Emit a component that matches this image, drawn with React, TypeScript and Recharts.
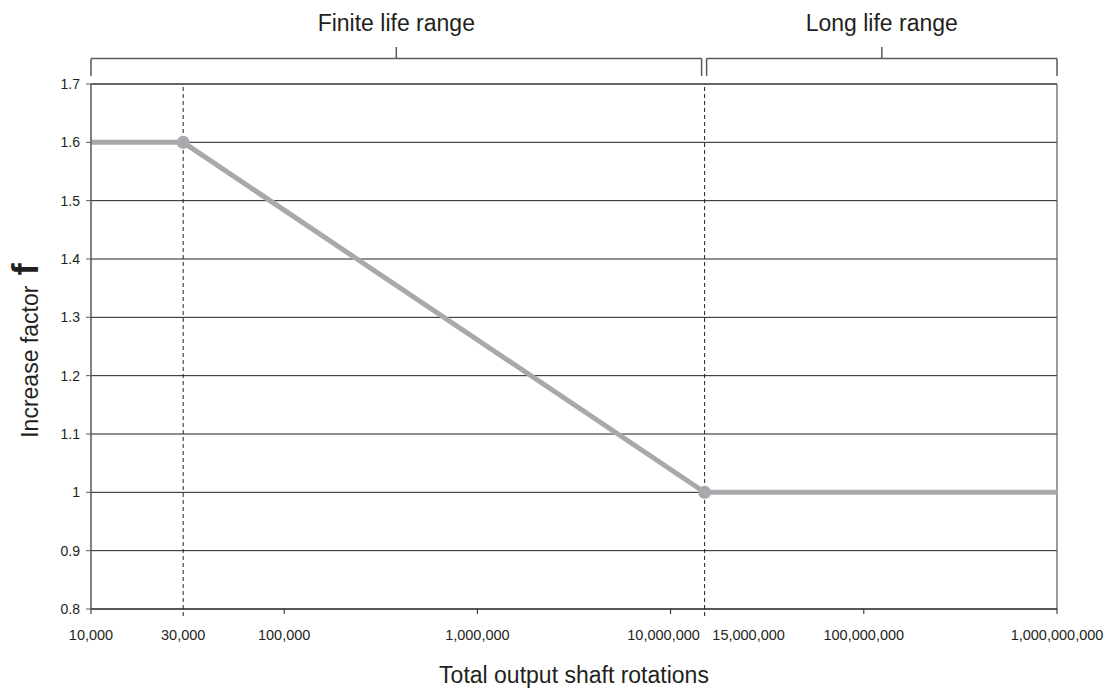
import {
  LineChart,
  Line,
  XAxis,
  YAxis,
  CartesianGrid,
  ReferenceLine,
} from "recharts";

// rotations vs increase factor
const ROTATIONS = [10000, 30000, 15000000, 1000000000];
const FACTOR = [1.6, 1.6, 1.0, 1.0];
const MARKED = [30000, 15000000];

const X_TICKS = [10000, 30000, 100000, 1000000, 10000000, 15000000, 100000000, 1000000000];
const DECADES = [10000, 100000, 1000000, 10000000, 100000000, 1000000000];
const Y_TICKS = [0.8, 0.9, 1, 1.1, 1.2, 1.3, 1.4, 1.5, 1.6, 1.7];

// bracket ranges above the plot (in rotations)
const FINITE_RANGE = [10000, 14470000];
const LONG_RANGE = [15360000, 1000000000];
const BRACKET_Y = 1.7437;
const BRACKET_END_Y = 1.7137;
const BRACKET_TOP_Y = 1.7634;

const data = ROTATIONS.map((x, i) => ({ x, y: FACTOR[i] }));

const INK = "#231f20";
const FRAME = "#58595b";
const FONT = "'Liberation Sans', Arial, sans-serif";

const LABEL_DX: Record<number, number> = { 10000000: -7, 15000000: 44 };

function XTick(props: any) {
  const { x, y, payload } = props;
  const v = payload.value as number;
  return (
    <g>
      {DECADES.includes(v) && <line x1={x} x2={x} y1={y} y2={y + 5} stroke={INK} />}
      <text
        x={x + (LABEL_DX[v] ?? 0)}
        y={y + 31}
        textAnchor="middle"
        fontSize={14.5}
        fill={INK}
        fontFamily={FONT}
      >
        {v.toLocaleString("en-US")}
      </text>
    </g>
  );
}

function YLabel(props: any) {
  const vb = props.viewBox ?? { x: 0, y: 84, width: 91, height: 525 };
  const cy = vb.y + vb.height / 2 + 4;
  return (
    <text
      transform={`translate(38, ${cy}) rotate(-90)`}
      textAnchor="middle"
      fill={INK}
      fontFamily={FONT}
    >
      <tspan fontSize={23}>Increase factor </tspan>
      <tspan fontSize={36} fontWeight="bold" dx={4}>
        f
      </tspan>
    </text>
  );
}

function renderDot(props: any) {
  const { cx, cy, payload, index } = props;
  if (!MARKED.includes(payload.x)) return <g key={`d${index}`} />;
  return <circle key={`d${index}`} cx={cx} cy={cy} r={6.5} fill="#a7a9ac" />;
}

function bracket(range: number[], title: string, key: string) {
  const [a, b] = range;
  const mid = Math.sqrt(a * b);
  return [
    <ReferenceLine
      key={key + "h"}
      segment={[{ x: a, y: BRACKET_Y }, { x: b, y: BRACKET_Y }]}
      ifOverflow="visible"
      stroke={FRAME}
      strokeWidth={1.5}
    />,
    <ReferenceLine
      key={key + "l"}
      segment={[{ x: a, y: BRACKET_Y }, { x: a, y: BRACKET_END_Y }]}
      ifOverflow="visible"
      stroke={FRAME}
      strokeWidth={1.5}
    />,
    <ReferenceLine
      key={key + "r"}
      segment={[{ x: b, y: BRACKET_Y }, { x: b, y: BRACKET_END_Y }]}
      ifOverflow="visible"
      stroke={FRAME}
      strokeWidth={1.5}
    />,
    <ReferenceLine
      key={key + "c"}
      segment={[{ x: mid, y: BRACKET_Y }, { x: mid, y: BRACKET_TOP_Y }]}
      ifOverflow="visible"
      stroke={FRAME}
      strokeWidth={1.5}
      label={{
        value: title,
        position: "top",
        offset: 16,
        fontSize: 23,
        fill: INK,
        fontFamily: FONT,
      }}
    />,
  ];
}

export default function App() {
  return (
    <div style={{ position: "absolute", left: 0, top: 0 }}>
      <LineChart
        width={1107}
        height={690}
        data={data}
        margin={{ top: 84, right: 50, bottom: 0, left: 0 }}
        style={{ fontFamily: FONT }}
      >
        <CartesianGrid vertical={false} stroke={INK} strokeWidth={1} />
        <XAxis
          dataKey="x"
          type="number"
          scale="log"
          domain={[10000, 1000000000]}
          allowDataOverflow
          ticks={X_TICKS}
          interval={0}
          tick={<XTick />}
          tickLine={false}
          tickSize={0}
          tickMargin={0}
          axisLine={{ stroke: INK }}
          height={81}
          label={{
            value: "Total output shaft rotations",
            position: "insideBottom",
            offset: 7,
            fontSize: 23,
            fill: INK,
            fontFamily: FONT,
          }}
        />
        <YAxis
          type="number"
          domain={[0.8, 1.7]}
          ticks={Y_TICKS}
          interval={0}
          width={91}
          tickSize={5}
          tickMargin={6}
          tick={{ fontSize: 14, fill: INK, fontFamily: FONT }}
          tickLine={{ stroke: FRAME }}
          axisLine={{ stroke: FRAME, strokeWidth: 1.5 }}
          label={<YLabel />}
        />
        <ReferenceLine x={1000000000} stroke={FRAME} strokeWidth={1.2} />
        <ReferenceLine y={1.7} stroke={FRAME} strokeWidth={1.5} />
        {MARKED.map((m) => (
          <ReferenceLine
            key={m}
            segment={[{ x: m, y: 0.788 }, { x: m, y: 1.7 }]}
            ifOverflow="visible"
            stroke={INK}
            strokeDasharray="4 3"
          />
        ))}
        {bracket(FINITE_RANGE, "Finite life range", "fin")}
        {bracket(LONG_RANGE, "Long life range", "long")}
        <Line
          type="linear"
          dataKey="y"
          stroke="#a7a9ac"
          strokeWidth={5}
          dot={renderDot}
          activeDot={false}
          isAnimationActive={false}
        />
      </LineChart>
    </div>
  );
}
